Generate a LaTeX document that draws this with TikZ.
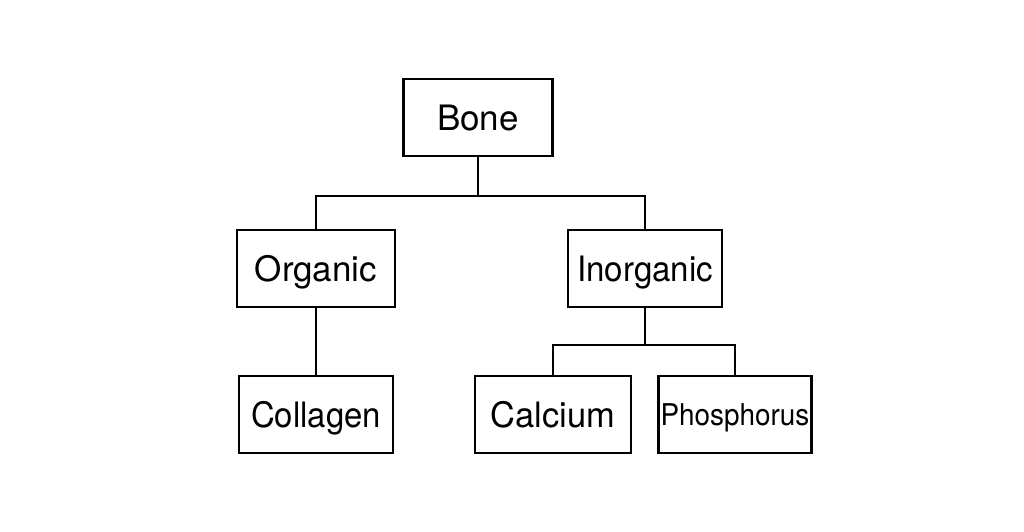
\documentclass[tikz,border=0pt]{standalone}
\usepackage{fontspec}
\setmainfont{TeX Gyre Heros}
\begin{document}
\begin{tikzpicture}[x=1pt,y=-1pt,
  box/.style={draw=black,line width=2.3pt,rectangle,inner sep=0pt,
    font=\fontsize{35}{42}\selectfont,text height=25pt,text depth=0pt,
    minimum height=77pt,anchor=center},
  conn/.style={draw=black,line width=2.3pt}]
\useasboundingbox (0,0) rectangle (1024,532);
\fill[white] (0,0) rectangle (1024,532);
\node[box,minimum width=149pt] (bone) at (478,117.5) {Bone};
\node[box,minimum width=158pt] (org) at (316,268.5) {Organic};
\node[box,minimum width=154pt] (inorg) at (645,268.5) {\scalebox{0.945}[1]{Inorganic}};
\node[box,minimum width=154pt] (coll) at (316,414.5) {\scalebox{0.94}[1]{Collagen}};
\node[box,minimum width=156pt] (calc) at (553,414.5) {\scalebox{0.985}[1]{Calcium}};
\node[box,minimum width=153pt,text height=21.5pt] (phos) at (735,414.5) {\scalebox{0.93}[1]{\fontsize{30}{36}\selectfont Phosphorus}};
\draw[conn] (bone.south) -- ++(0,38.5) coordinate (j1);
\draw[conn] (org.north) |- (j1) -| (inorg.north);
\draw[conn] (org.south) -- (coll.north);
\draw[conn] (inorg.south) -- ++(0,36.5) coordinate (j2);
\draw[conn] (calc.north) |- (j2) -| (phos.north);
\end{tikzpicture}
\end{document}
